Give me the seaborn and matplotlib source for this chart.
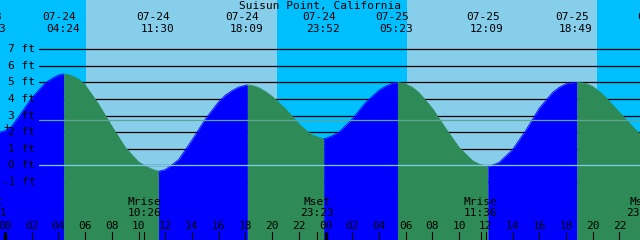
import matplotlib
matplotlib.use("Agg")
import matplotlib.pyplot as plt
import matplotlib.transforms as mtransforms
import numpy as np
import pandas as pd
import seaborn as sns

title = "Suisun Point, California"

# tide curve: hours from 07-24 00:00, height in feet
tide_hours = [-1.117, 0, 0.5, 1, 2, 3, 3.5, 4, 4.4, 4.7, 5, 5.5, 6, 7, 8, 9, 10, 10.5, 11, 11.5,
              12, 12.5, 13, 14, 15, 16, 16.5, 17, 17.5, 18, 18.15, 18.5, 19, 19.5, 20, 21, 22, 22.5,
              23, 23.5, 23.867, 24, 24.5, 25, 26, 27, 28, 28.5, 29, 29.383, 29.5, 30, 30.5, 31, 32,
              33, 34, 35, 35.5, 36, 36.15, 36.5, 37, 38, 39, 40, 41, 41.5, 42, 42.5, 42.817, 43,
              43.5, 44, 44.5, 45, 46, 47, 47.5, 48, 48.95]
tide_feet = [1.85, 2.08, 2.35, 2.90, 4.06, 4.95, 5.23, 5.44, 5.52, 5.48, 5.41, 5.21, 4.85, 3.70, 2.36, 1.09, 0.20, -0.04, -0.23, -0.36,
             -0.26, 0.02, 0.34, 1.52, 2.79, 3.84, 4.23, 4.51, 4.72, 4.83, 4.85, 4.82, 4.69, 4.45, 4.16, 3.41, 2.50, 2.14,
             1.82, 1.69, 1.60, 1.62, 1.78, 2.00, 2.79, 3.80, 4.53, 4.77, 4.95, 5.00, 4.99, 4.91, 4.71, 4.38, 3.43,
             2.22, 1.07, 0.28, 0.07, -0.07, -0.09, 0.01, 0.18, 0.95, 2.12, 3.45, 4.40, 4.71, 4.92, 4.99, 5.01, 4.99,
             4.94, 4.75, 4.46, 4.08, 3.19, 2.32, 1.92, 1.55, 1.40]

# high / low tide events
event_hours = [-1.117, 4.4, 11.5, 18.15, 23.867, 29.383, 36.15, 42.817, 48.95]
event_dates = ["07-23", "07-24", "07-24", "07-24", "07-24", "07-25", "07-25", "07-25", "07-26"]
event_times = ["22:53", "04:24", "11:30", "18:09", "23:52", "05:23", "12:09", "18:49", "00:57"]

# moon events
moon_hours = [-1.15, 10.433, 23.383, 35.6, 47.75]
moon_names = ["Mset", "Mrise", "Mset", "Mrise", "Mset"]
moon_times = ["22:51", "10:26", "23:23", "11:36", "23:45"]

# daylight
sunrise_hours = [6.067, 30.083]
sunset_hours = [20.367, 44.317]

level_ticks = [-1, 0, 1, 2, 3, 4, 5, 6, 7]
level_labels = ["-1 ft", "0 ft", "1 ft", "2 ft", "3 ft", "4 ft", "5 ft", "6 ft", "7 ft"]
hour_ticks = [0, 2, 4, 6, 8, 10, 12, 14, 16, 18, 20, 22, 24, 26, 28, 30, 32, 34, 36, 38, 40, 42, 44, 46]
hour_labels = ["00", "02", "04", "06", "08", "10", "12", "14", "16", "18", "20", "22",
               "00", "02", "04", "06", "08", "10", "12", "14", "16", "18", "20", "22"]
midnight_hours = [0, 24]
mean_level = 2.72
marker_hour = 0.12
marker_feet = 2.29

NIGHT = "#00BFFF"
DAY = "#87CEEB"
RISE = "#0000FF"
FALL = "#2E8B57"

sns.set_theme(style="white")
plt.rcParams["font.family"] = ["DejaVu Sans Mono", "DejaVu Sans"]
FS = 8.0

fig = plt.figure(figsize=(6.4, 2.4), dpi=100)
ax = fig.add_axes([0, 0, 1, 1])
ax.set_xlim(-0.3668, 47.537)
ax.set_ylim(-4.51, 9.98)
ax.set_facecolor(NIGHT)
for s in ax.spines.values():
    s.set_visible(False)
ax.set_xticks([])
ax.set_yticks([])

for r, s in zip(sunrise_hours, sunset_hours):
    ax.axvspan(r, s, color=DAY, lw=0, zorder=0)

line_start = 39.3 / 640
for lv in level_ticks:
    ax.axhline(lv, xmin=line_start, xmax=1, color="black", lw=0.9, zorder=1)

df = pd.DataFrame({"hour": tide_hours, "feet": tide_feet})
for a, b in zip(event_hours[:-1], event_hours[1:]):
    seg = df[(df.hour >= a) & (df.hour <= b)]
    col = RISE if seg.feet.iloc[-1] > seg.feet.iloc[0] else FALL
    ax.fill_between(seg.hour, seg.feet, -4.51, color=col, lw=0, zorder=2)
    sns.lineplot(data=seg, x="hour", y="feet", color=col, lw=0.6, ax=ax,
                 zorder=2.1, legend=False, sort=False)

ax.axhline(0, xmin=line_start, xmax=1, color="#80CCE8", lw=0.9, zorder=3)
ax.axhline(mean_level, xmin=line_start, xmax=1, color="#5FA595", lw=0.9, zorder=3)
ax.set_xlabel("")
ax.set_ylabel("")

def off(px):
    return mtransforms.ScaledTranslation(px / 100.0, 0, fig.dpi_scale_trans)

bt = ax.get_xaxis_transform()
# top title and event labels
ax.text(0.5, 1 - 6 / 240, title, transform=ax.transAxes, ha="center", va="center",
        fontsize=FS, color="black", zorder=5)
for h, d, t in zip(event_hours, event_dates, event_times):
    ax.text(h, 1 - 17.5 / 240, d, transform=bt + off(-5), ha="center", va="center",
            fontsize=FS, color="black", zorder=5)
    ax.text(h, 1 - 29.5 / 240, t, transform=bt + off(-1), ha="center", va="center",
            fontsize=FS, color="black", zorder=5)

# level labels
yt = ax.get_yaxis_transform()
for lv, lab in zip(level_ticks, level_labels):
    ax.text(35.5 / 640, lv, lab, transform=yt, ha="right", va="center",
            fontsize=FS, color="black", zorder=5)
ax.text(marker_hour, marker_feet, "+", ha="center", va="center", fontsize=FS,
        color="black", zorder=5)

# moon events
for h, n, t in zip(moon_hours, moon_names, moon_times):
    ax.text(h, 1 - 201.7 / 240, n, transform=bt, ha="center", va="center",
            fontsize=FS, color="black", zorder=5)
    ax.text(h, 1 - 213 / 240, t, transform=bt, ha="center", va="center",
            fontsize=FS, color="black", zorder=5)
    ax.plot([h, h], [0, 8 / 240], transform=bt, color="black", lw=0.8, zorder=5)

# hour axis
for h, lab in zip(hour_ticks, hour_labels):
    ax.text(h, 1 - 226 / 240, lab, transform=bt, ha="center", va="center",
            fontsize=FS, color="black", zorder=5)
    ax.plot([h, h], [0, 8 / 240], transform=bt, color="black", lw=0.8, zorder=5)
for h in midnight_hours:
    ax.plot([h, h], [0, 8 / 240], transform=bt, color="black", lw=2.4, zorder=5,
            solid_capstyle="butt")

fig.savefig("out.png", dpi=100)
